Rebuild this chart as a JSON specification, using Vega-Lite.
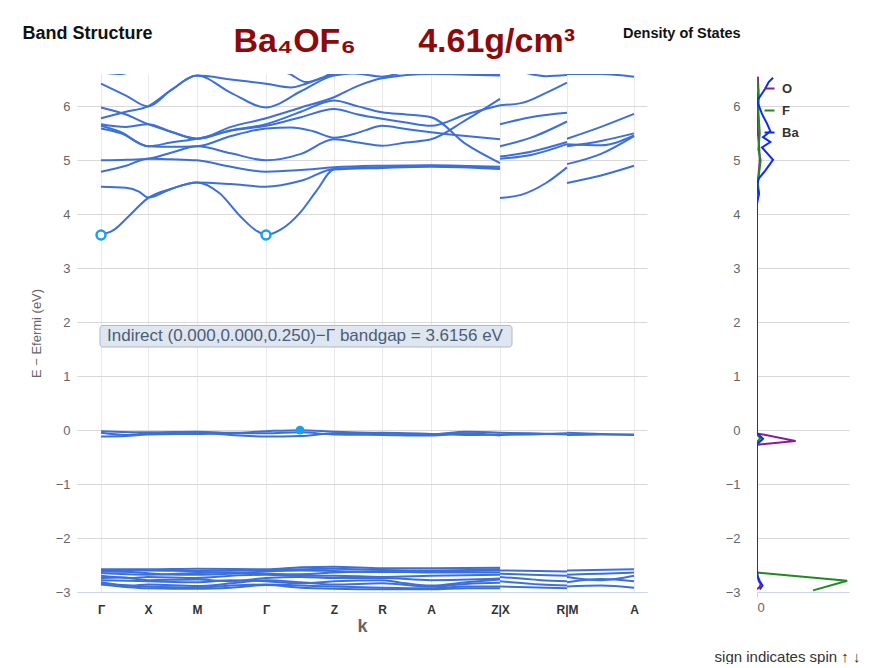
{
  "$schema": "https://vega.github.io/schema/vega-lite/v6.json",
  "padding": {"left": 22, "top": 24, "right": 0, "bottom": 0},
  "background": "white",
  "config": {
    "font": "Liberation Sans",
    "view": {"stroke": null},
    "title": {"font": "Liberation Sans"}
  },
  "spacing": -24,
  "datasets": {
    "bands": [
      {"b":"c1","k":0,"e":3.62},{"b":"c1","k":12,"e":3.7},{"b":"c1","k":28,"e":3.97},{"b":"c1","k":47,"e":4.3},{"b":"c1","k":70,"e":4.47},{"b":"c1","k":96,"e":4.59},{"b":"c1","k":118,"e":4.4},{"b":"c1","k":140,"e":3.95},{"b":"c1","k":155,"e":3.7},{"b":"c1","k":165,"e":3.62},{"b":"c1","k":180,"e":3.72},{"b":"c1","k":200,"e":4.05},{"b":"c1","k":216,"e":4.45},{"b":"c1","k":233,"e":4.83},{"b":"c1","k":281,"e":4.86},{"b":"c1","k":330,"e":4.88},{"b":"c1","k":399,"e":4.84},
      {"b":"c2","k":0,"e":4.51},{"b":"c2","k":25,"e":4.49},{"b":"c2","k":38,"e":4.42},{"b":"c2","k":47,"e":4.31},{"b":"c2","k":70,"e":4.47},{"b":"c2","k":96,"e":4.59},{"b":"c2","k":130,"e":4.56},{"b":"c2","k":165,"e":4.51},{"b":"c2","k":200,"e":4.62},{"b":"c2","k":233,"e":4.84},{"b":"c2","k":281,"e":4.87},{"b":"c2","k":330,"e":4.9},{"b":"c2","k":399,"e":4.85},
      {"b":"c3","k":0,"e":4.79},{"b":"c3","k":25,"e":4.9},{"b":"c3","k":47,"e":5.03},{"b":"c3","k":70,"e":5.02},{"b":"c3","k":96,"e":5.0},{"b":"c3","k":130,"e":4.88},{"b":"c3","k":165,"e":4.79},{"b":"c3","k":200,"e":4.82},{"b":"c3","k":233,"e":4.87},{"b":"c3","k":281,"e":4.9},{"b":"c3","k":330,"e":4.91},{"b":"c3","k":399,"e":4.88},
      {"b":"c4","k":0,"e":5.0},{"b":"c4","k":25,"e":5.01},{"b":"c4","k":47,"e":5.03},{"b":"c4","k":70,"e":5.14},{"b":"c4","k":96,"e":5.26},{"b":"c4","k":130,"e":5.13},{"b":"c4","k":165,"e":5.0},{"b":"c4","k":200,"e":5.12},{"b":"c4","k":233,"e":5.39},{"b":"c4","k":257,"e":5.33},{"b":"c4","k":281,"e":5.27},{"b":"c4","k":305,"e":5.33},{"b":"c4","k":330,"e":5.39},{"b":"c4","k":365,"e":5.75},{"b":"c4","k":399,"e":6.14},
      {"b":"c5","k":0,"e":5.59},{"b":"c5","k":20,"e":5.5},{"b":"c5","k":47,"e":5.26},{"b":"c5","k":70,"e":5.25},{"b":"c5","k":96,"e":5.26},{"b":"c5","k":130,"e":5.45},{"b":"c5","k":165,"e":5.59},{"b":"c5","k":190,"e":5.61},{"b":"c5","k":212,"e":5.54},{"b":"c5","k":233,"e":5.42},{"b":"c5","k":255,"e":5.5},{"b":"c5","k":265,"e":5.56},{"b":"c5","k":281,"e":5.64},{"b":"c5","k":305,"e":5.58},{"b":"c5","k":330,"e":5.52},{"b":"c5","k":365,"e":5.45},{"b":"c5","k":399,"e":5.39},
      {"b":"c6","k":0,"e":5.64},{"b":"c6","k":20,"e":5.52},{"b":"c6","k":47,"e":5.26},{"b":"c6","k":70,"e":5.33},{"b":"c6","k":96,"e":5.4},{"b":"c6","k":130,"e":5.55},{"b":"c6","k":165,"e":5.64},{"b":"c6","k":200,"e":5.8},{"b":"c6","k":233,"e":5.95},{"b":"c6","k":257,"e":5.85},{"b":"c6","k":281,"e":5.77},{"b":"c6","k":305,"e":5.7},{"b":"c6","k":330,"e":5.64},{"b":"c6","k":365,"e":5.85},{"b":"c6","k":399,"e":6.02},
      {"b":"c7","k":0,"e":5.67},{"b":"c7","k":25,"e":5.62},{"b":"c7","k":47,"e":5.67},{"b":"c7","k":70,"e":5.53},{"b":"c7","k":96,"e":5.4},{"b":"c7","k":130,"e":5.56},{"b":"c7","k":165,"e":5.67},{"b":"c7","k":200,"e":5.9},{"b":"c7","k":233,"e":6.11},{"b":"c7","k":257,"e":6.0},{"b":"c7","k":281,"e":5.89},{"b":"c7","k":305,"e":5.85},{"b":"c7","k":330,"e":5.8},{"b":"c7","k":365,"e":5.3},{"b":"c7","k":399,"e":4.95},
      {"b":"c8","k":0,"e":5.98},{"b":"c8","k":25,"e":5.85},{"b":"c8","k":47,"e":5.67},{"b":"c8","k":70,"e":5.53},{"b":"c8","k":96,"e":5.4},{"b":"c8","k":130,"e":5.62},{"b":"c8","k":165,"e":5.78},{"b":"c8","k":200,"e":5.98},{"b":"c8","k":233,"e":6.17},{"b":"c8","k":257,"e":6.38},{"b":"c8","k":281,"e":6.52},{"b":"c8","k":330,"e":6.6},{"b":"c8","k":399,"e":6.57},
      {"b":"c9","k":0,"e":5.78},{"b":"c9","k":25,"e":5.9},{"b":"c9","k":47,"e":6.0},{"b":"c9","k":70,"e":6.3},{"b":"c9","k":96,"e":6.57},{"b":"c9","k":130,"e":6.25},{"b":"c9","k":165,"e":5.98},{"b":"c9","k":200,"e":6.28},{"b":"c9","k":233,"e":6.57},{"b":"c9","k":281,"e":6.64},{"b":"c9","k":330,"e":6.62},{"b":"c9","k":399,"e":6.62},
      {"b":"c10","k":0,"e":6.42},{"b":"c10","k":25,"e":6.2},{"b":"c10","k":47,"e":6.0},{"b":"c10","k":70,"e":6.3},{"b":"c10","k":96,"e":6.57},{"b":"c10","k":130,"e":6.5},{"b":"c10","k":165,"e":6.42},{"b":"c10","k":190,"e":6.35},{"b":"c10","k":205,"e":6.42},{"b":"c10","k":220,"e":6.52},{"b":"c10","k":233,"e":6.6},{"b":"c10","k":281,"e":6.7},{"b":"c10","k":330,"e":6.68},{"b":"c10","k":399,"e":6.7},
      {"b":"c11","k":0,"e":6.63},{"b":"c11","k":20,"e":6.6},{"b":"c11","k":47,"e":6.75},{"b":"c11","k":96,"e":6.8},{"b":"c11","k":165,"e":6.63},{"b":"c11","k":185,"e":6.62},{"b":"c11","k":205,"e":6.45},{"b":"c11","k":220,"e":6.52},{"b":"c11","k":233,"e":6.62},{"b":"c11","k":260,"e":6.6},{"b":"c11","k":281,"e":6.55},{"b":"c11","k":300,"e":6.62},{"b":"c11","k":330,"e":6.7},{"b":"c11","k":365,"e":6.6},{"b":"c11","k":399,"e":6.58},
      {"b":"x1","k":399,"e":4.3},{"b":"x1","k":420,"e":4.36},{"b":"x1","k":445,"e":4.58},{"b":"x1","k":466,"e":4.87},
      {"b":"x2","k":399,"e":5.03},{"b":"x2","k":430,"e":5.1},{"b":"x2","k":466,"e":5.3},
      {"b":"x3","k":399,"e":5.07},{"b":"x3","k":430,"e":5.16},{"b":"x3","k":466,"e":5.34},
      {"b":"x4","k":399,"e":5.26},{"b":"x4","k":430,"e":5.42},{"b":"x4","k":466,"e":5.72},
      {"b":"x5","k":399,"e":5.67},{"b":"x5","k":430,"e":5.8},{"b":"x5","k":466,"e":5.88},
      {"b":"x6","k":399,"e":6.02},{"b":"x6","k":420,"e":6.06},{"b":"x6","k":445,"e":6.25},{"b":"x6","k":466,"e":6.44},
      {"b":"x7","k":399,"e":6.8},{"b":"x7","k":425,"e":6.62},{"b":"x7","k":445,"e":6.56},{"b":"x7","k":466,"e":6.58},
      {"b":"m1","k":466,"e":4.58},{"b":"m1","k":500,"e":4.72},{"b":"m1","k":533,"e":4.9},
      {"b":"m2","k":466,"e":4.93},{"b":"m2","k":500,"e":5.12},{"b":"m2","k":533,"e":5.45},
      {"b":"m3","k":466,"e":5.26},{"b":"m3","k":500,"e":5.36},{"b":"m3","k":533,"e":5.5},
      {"b":"m4","k":466,"e":5.3},{"b":"m4","k":500,"e":5.28},{"b":"m4","k":533,"e":5.46},
      {"b":"m5","k":466,"e":5.4},{"b":"m5","k":500,"e":5.62},{"b":"m5","k":533,"e":5.86},
      {"b":"m6","k":466,"e":6.6},{"b":"m6","k":500,"e":6.6},{"b":"m6","k":533,"e":6.55},
      {"b":"v1","k":0,"e":-0.02},{"b":"v1","k":47,"e":-0.04},{"b":"v1","k":96,"e":-0.03},{"b":"v1","k":130,"e":-0.05},{"b":"v1","k":165,"e":-0.02},{"b":"v1","k":199,"e":0.0},{"b":"v1","k":233,"e":-0.03},{"b":"v1","k":281,"e":-0.06},{"b":"v1","k":330,"e":-0.08},{"b":"v1","k":365,"e":-0.03},{"b":"v1","k":399,"e":-0.05},
      {"b":"v2","k":0,"e":-0.05},{"b":"v2","k":25,"e":-0.09},{"b":"v2","k":47,"e":-0.06},{"b":"v2","k":96,"e":-0.05},{"b":"v2","k":130,"e":-0.09},{"b":"v2","k":165,"e":-0.12},{"b":"v2","k":199,"e":-0.11},{"b":"v2","k":233,"e":-0.06},{"b":"v2","k":281,"e":-0.05},{"b":"v2","k":330,"e":-0.07},{"b":"v2","k":365,"e":-0.09},{"b":"v2","k":399,"e":-0.08},
      {"b":"v3","k":0,"e":-0.12},{"b":"v3","k":25,"e":-0.11},{"b":"v3","k":47,"e":-0.08},{"b":"v3","k":96,"e":-0.07},{"b":"v3","k":130,"e":-0.06},{"b":"v3","k":165,"e":-0.06},{"b":"v3","k":199,"e":-0.04},{"b":"v3","k":233,"e":-0.08},{"b":"v3","k":281,"e":-0.09},{"b":"v3","k":330,"e":-0.1},{"b":"v3","k":365,"e":-0.06},{"b":"v3","k":399,"e":-0.1},
      {"b":"vx1","k":399,"e":-0.05},{"b":"vx1","k":430,"e":-0.06},{"b":"vx1","k":466,"e":-0.08},
      {"b":"vx2","k":399,"e":-0.09},{"b":"vx2","k":430,"e":-0.08},{"b":"vx2","k":466,"e":-0.06},
      {"b":"vm1","k":466,"e":-0.05},{"b":"vm1","k":500,"e":-0.07},{"b":"vm1","k":533,"e":-0.09},
      {"b":"vm2","k":466,"e":-0.09},{"b":"vm2","k":500,"e":-0.08},{"b":"vm2","k":533,"e":-0.08},
      {"b":"d1","k":0,"e":-2.58},{"b":"d1","k":47,"e":-2.58},{"b":"d1","k":96,"e":-2.57},{"b":"d1","k":165,"e":-2.58},{"b":"d1","k":200,"e":-2.54},{"b":"d1","k":233,"e":-2.53},{"b":"d1","k":281,"e":-2.56},{"b":"d1","k":330,"e":-2.56},{"b":"d1","k":399,"e":-2.55},
      {"b":"d2","k":0,"e":-2.6},{"b":"d2","k":47,"e":-2.6},{"b":"d2","k":96,"e":-2.61},{"b":"d2","k":165,"e":-2.6},{"b":"d2","k":200,"e":-2.58},{"b":"d2","k":233,"e":-2.57},{"b":"d2","k":281,"e":-2.59},{"b":"d2","k":330,"e":-2.6},{"b":"d2","k":399,"e":-2.58},
      {"b":"d3","k":0,"e":-2.62},{"b":"d3","k":30,"e":-2.63},{"b":"d3","k":60,"e":-2.67},{"b":"d3","k":96,"e":-2.68},{"b":"d3","k":130,"e":-2.66},{"b":"d3","k":165,"e":-2.62},{"b":"d3","k":200,"e":-2.6},{"b":"d3","k":233,"e":-2.61},{"b":"d3","k":281,"e":-2.63},{"b":"d3","k":330,"e":-2.62},{"b":"d3","k":399,"e":-2.6},
      {"b":"d4","k":0,"e":-2.65},{"b":"d4","k":47,"e":-2.68},{"b":"d4","k":96,"e":-2.65},{"b":"d4","k":130,"e":-2.64},{"b":"d4","k":165,"e":-2.66},{"b":"d4","k":200,"e":-2.67},{"b":"d4","k":233,"e":-2.64},{"b":"d4","k":281,"e":-2.62},{"b":"d4","k":330,"e":-2.64},{"b":"d4","k":399,"e":-2.64},
      {"b":"d5","k":0,"e":-2.7},{"b":"d5","k":30,"e":-2.74},{"b":"d5","k":47,"e":-2.72},{"b":"d5","k":96,"e":-2.74},{"b":"d5","k":130,"e":-2.7},{"b":"d5","k":165,"e":-2.68},{"b":"d5","k":200,"e":-2.7},{"b":"d5","k":233,"e":-2.7},{"b":"d5","k":281,"e":-2.72},{"b":"d5","k":330,"e":-2.7},{"b":"d5","k":399,"e":-2.68},
      {"b":"d6","k":0,"e":-2.74},{"b":"d6","k":20,"e":-2.73},{"b":"d6","k":47,"e":-2.78},{"b":"d6","k":96,"e":-2.77},{"b":"d6","k":130,"e":-2.8},{"b":"d6","k":165,"e":-2.74},{"b":"d6","k":200,"e":-2.72},{"b":"d6","k":233,"e":-2.74},{"b":"d6","k":281,"e":-2.74},{"b":"d6","k":330,"e":-2.78},{"b":"d6","k":399,"e":-2.75},
      {"b":"d7","k":0,"e":-2.78},{"b":"d7","k":47,"e":-2.8},{"b":"d7","k":96,"e":-2.82},{"b":"d7","k":130,"e":-2.78},{"b":"d7","k":165,"e":-2.8},{"b":"d7","k":200,"e":-2.84},{"b":"d7","k":233,"e":-2.8},{"b":"d7","k":281,"e":-2.78},{"b":"d7","k":305,"e":-2.84},{"b":"d7","k":330,"e":-2.88},{"b":"d7","k":365,"e":-2.82},{"b":"d7","k":399,"e":-2.77},
      {"b":"d8","k":0,"e":-2.82},{"b":"d8","k":30,"e":-2.88},{"b":"d8","k":47,"e":-2.86},{"b":"d8","k":96,"e":-2.89},{"b":"d8","k":130,"e":-2.84},{"b":"d8","k":165,"e":-2.78},{"b":"d8","k":200,"e":-2.82},{"b":"d8","k":233,"e":-2.86},{"b":"d8","k":281,"e":-2.84},{"b":"d8","k":330,"e":-2.9},{"b":"d8","k":365,"e":-2.85},{"b":"d8","k":399,"e":-2.83},
      {"b":"d9","k":0,"e":-2.85},{"b":"d9","k":47,"e":-2.9},{"b":"d9","k":96,"e":-2.92},{"b":"d9","k":130,"e":-2.88},{"b":"d9","k":165,"e":-2.86},{"b":"d9","k":200,"e":-2.88},{"b":"d9","k":233,"e":-2.9},{"b":"d9","k":281,"e":-2.92},{"b":"d9","k":330,"e":-2.93},{"b":"d9","k":365,"e":-2.9},{"b":"d9","k":399,"e":-2.9},
      {"b":"d10","k":0,"e":-2.86},{"b":"d10","k":47,"e":-2.93},{"b":"d10","k":96,"e":-2.94},{"b":"d10","k":130,"e":-2.92},{"b":"d10","k":165,"e":-2.87},{"b":"d10","k":200,"e":-2.92},{"b":"d10","k":233,"e":-2.94},{"b":"d10","k":281,"e":-2.95},{"b":"d10","k":330,"e":-2.95},{"b":"d10","k":365,"e":-2.93},{"b":"d10","k":399,"e":-2.93},
      {"b":"dx1","k":399,"e":-2.6},{"b":"dx1","k":466,"e":-2.62},
      {"b":"dx2","k":399,"e":-2.66},{"b":"dx2","k":430,"e":-2.68},{"b":"dx2","k":466,"e":-2.7},
      {"b":"dx3","k":399,"e":-2.72},{"b":"dx3","k":440,"e":-2.78},{"b":"dx3","k":466,"e":-2.8},
      {"b":"dx4","k":399,"e":-2.8},{"b":"dx4","k":440,"e":-2.86},{"b":"dx4","k":466,"e":-2.88},
      {"b":"dx5","k":399,"e":-2.9},{"b":"dx5","k":466,"e":-2.93},
      {"b":"dm1","k":466,"e":-2.6},{"b":"dm1","k":533,"e":-2.58},
      {"b":"dm2","k":466,"e":-2.68},{"b":"dm2","k":500,"e":-2.66},{"b":"dm2","k":533,"e":-2.64},
      {"b":"dm3","k":466,"e":-2.72},{"b":"dm3","k":500,"e":-2.78},{"b":"dm3","k":533,"e":-2.7},
      {"b":"dm4","k":466,"e":-2.82},{"b":"dm4","k":500,"e":-2.76},{"b":"dm4","k":533,"e":-2.8},
      {"b":"dm5","k":466,"e":-2.9},{"b":"dm5","k":500,"e":-2.88},{"b":"dm5","k":533,"e":-2.92}
    ],
    "edges": [
      {"kind":"cbm","k":0,"e":3.6156},
      {"kind":"cbm","k":165,"e":3.6156},
      {"kind":"vbm","k":199,"e":0}
    ],
    "dos": [
      {"el":"O","e":-2.95,"d":0},{"el":"O","e":-2.9,"d":0.3},{"el":"O","e":-2.85,"d":0.4},{"el":"O","e":-2.8,"d":0.2},{"el":"O","e":-2.7,"d":0.05},{"el":"O","e":-2.6,"d":0},{"el":"O","e":-0.3,"d":0},{"el":"O","e":-0.27,"d":0},{"el":"O","e":-0.2,"d":4.2},{"el":"O","e":-0.06,"d":0},{"el":"O","e":-0.02,"d":0},{"el":"O","e":4.2,"d":0},{"el":"O","e":4.6,"d":0.1},{"el":"O","e":5.0,"d":0.3},{"el":"O","e":5.2,"d":0.25},{"el":"O","e":5.5,"d":0.1},{"el":"O","e":6.0,"d":0.0},{"el":"O","e":6.3,"d":0.15},{"el":"O","e":6.55,"d":0.1},
      {"el":"F","e":-2.97,"d":6.1},{"el":"F","e":-2.79,"d":9.8},{"el":"F","e":-2.64,"d":0},{"el":"F","e":-2.5,"d":0},{"el":"F","e":-0.22,"d":0},{"el":"F","e":-0.15,"d":0.35},{"el":"F","e":-0.08,"d":0},{"el":"F","e":4.3,"d":0},{"el":"F","e":4.4,"d":0.2},{"el":"F","e":4.6,"d":0.1},{"el":"F","e":5.0,"d":0.4},{"el":"F","e":5.2,"d":0.15},{"el":"F","e":5.5,"d":0.3},{"el":"F","e":5.9,"d":0.15},{"el":"F","e":6.2,"d":0.2},{"el":"F","e":6.55,"d":0},
      {"el":"Ba","e":-2.95,"d":0.3},{"el":"Ba","e":-2.88,"d":0.6},{"el":"Ba","e":-2.8,"d":0.3},{"el":"Ba","e":-2.7,"d":0.05},{"el":"Ba","e":-2.6,"d":0},{"el":"Ba","e":-0.26,"d":0},{"el":"Ba","e":-0.16,"d":0.65},{"el":"Ba","e":-0.06,"d":0},{"el":"Ba","e":3.2,"d":0},{"el":"Ba","e":4.2,"d":0},{"el":"Ba","e":4.38,"d":0.22},{"el":"Ba","e":4.54,"d":0},{"el":"Ba","e":4.66,"d":0.18},{"el":"Ba","e":4.81,"d":0.9},{"el":"Ba","e":5.01,"d":1.74},{"el":"Ba","e":5.24,"d":0.54},{"el":"Ba","e":5.34,"d":1.45},{"el":"Ba","e":5.43,"d":0.65},{"el":"Ba","e":5.54,"d":1.45},{"el":"Ba","e":5.68,"d":1.09},{"el":"Ba","e":5.86,"d":0.54},{"el":"Ba","e":6.1,"d":0},{"el":"Ba","e":6.33,"d":0.9},{"el":"Ba","e":6.45,"d":1.27},{"el":"Ba","e":6.53,"d":1.74}
    ]
  },
  "hconcat": [
    {
      "width": 570,
      "height": 518,
      "resolve": {"axis": {"x": "independent"}},
      "layer": [
        {
          "data": {"name": "bands"},
          "mark": {"type": "line", "interpolate": "monotone", "color": "#3d6fdb", "strokeWidth": 2, "clip": true},
          "encoding": {
            "x": {
              "field": "k", "type": "quantitative",
              "scale": {"domain": [-24, 546], "nice": false, "zero": false},
              "axis": {
                "values": [0, 47, 96, 165, 233, 281, 330, 399, 466, 533],
                "labelExpr": "['Γ','X','M','Γ','Z','R','A','Z|X','R|M','A'][indexof([0,47,96,165,233,281,330,399,466,533], datum.value)]",
                "grid": true, "gridColor": "#e9e9e9",
                "ticks": false, "domainColor": "#ccd6eb",
                "labelFontSize": 12, "labelFontWeight": "bold", "labelColor": "#333", "labelPadding": 12,
                "title": "k", "titleFontSize": 18, "titleFontWeight": "bold", "titleColor": "#666", "titlePadding": 2
              }
            },
            "y": {
              "field": "e", "type": "quantitative",
              "scale": {"domain": [-3, 6.6], "nice": false, "zero": false},
              "axis": {
                "values": [-3, -2, -1, 0, 1, 2, 3, 4, 5, 6],
                "grid": true, "gridColor": "#d8d8d8",
                "ticks": false, "domain": false,
                "labelFontSize": 13, "labelColor": "#666", "labelPadding": 7,
                "title": "E − Efermi (eV)", "titleFontSize": 13, "titleFontWeight": "normal", "titleColor": "#666", "titlePadding": 12
              }
            },
            "detail": {"field": "b", "type": "nominal"}
          }
        },
        {
          "data": {"values": [{}]},
          "mark": {"type": "rect", "fill": "#dfe6ef", "stroke": "#a9b9cf", "strokeWidth": 1, "cornerRadius": 3},
          "encoding": {
            "x": {"datum": -1, "axis": null},
            "x2": {"datum": 411},
            "y": {"datum": 1.94},
            "y2": {"datum": 1.54}
          }
        },
        {
          "data": {"values": [{}]},
          "mark": {"type": "text", "align": "left", "baseline": "middle", "fontSize": 17, "color": "#4c5d7a", "text": "Indirect (0.000,0.000,0.250)−Γ bandgap = 3.6156 eV"},
          "encoding": {
            "x": {"datum": 6, "axis": null},
            "y": {"datum": 1.74}
          }
        },
        {
          "data": {"name": "edges"},
          "transform": [{"filter": "datum.kind === 'cbm'"}],
          "mark": {"type": "point", "shape": "circle", "filled": true, "fill": "white", "stroke": "#1aa0f0", "strokeWidth": 2.5, "size": 80, "opacity": 1},
          "encoding": {
            "x": {
              "field": "k", "type": "quantitative",
              "axis": {
                "orient": "top", "labels": false, "ticks": false, "domain": false, "grid": false,
                "title": "Band Structure", "titleFontSize": 18, "titleFontWeight": "bold", "titleColor": "#111",
                "titleAlign": "left", "titleBaseline": "middle", "titleX": -55, "titleY": -41
              }
            },
            "y": {"field": "e", "type": "quantitative"}
          }
        },
        {
          "data": {"name": "edges"},
          "transform": [{"filter": "datum.kind === 'vbm'"}],
          "mark": {"type": "point", "shape": "circle", "filled": true, "color": "#1a9ef0", "size": 80, "opacity": 1},
          "encoding": {
            "x": {
              "field": "k", "type": "quantitative",
              "axis": {
                "orient": "top", "labels": false, "ticks": false, "domain": false, "grid": false,
                "title": "Ba₄OF₆\u2003\u00a0\u00a0\u00a04.61g/cm³", "titleFontSize": 34, "titleFontWeight": "bold", "titleColor": "#8c0a0a",
                "titleAlign": "left", "titleBaseline": "middle", "titleX": 156, "titleY": -33
              }
            },
            "y": {"field": "e", "type": "quantitative"}
          }
        }
      ]
    },
    {
      "width": 92,
      "height": 518,
      "title": {
        "text": "Density of States",
        "fontSize": 14.5,
        "fontWeight": "bold",
        "color": "#111",
        "anchor": "start",
        "frame": "group",
        "dx": -134,
        "offset": 33
      },
      "data": {"name": "dos"},
      "mark": {"type": "line", "strokeWidth": 2, "clip": true},
      "encoding": {
        "x": {
          "field": "d", "type": "quantitative",
          "scale": {"domain": [0, 10], "nice": false},
          "axis": {
            "values": [0], "grid": false, "ticks": true, "tickSize": 5, "tickColor": "#ccd6eb", "domainColor": "#ccd6eb",
            "labelFontSize": 13, "labelColor": "#666", "labelPadding": 4,
            "title": "sign indicates spin ↑ ↓", "titleFontSize": 15, "titleFontWeight": "normal", "titleColor": "#333",
            "titleX": 30, "titleY": 57
          }
        },
        "y": {
          "field": "e", "type": "quantitative",
          "scale": {"domain": [-3, 6.6], "nice": false, "zero": false},
          "axis": {
            "values": [-3, -2, -1, 0, 1, 2, 3, 4, 5, 6],
            "grid": true, "gridColor": "#d8d8d8", "ticks": false, "domain": false,
            "labelFontSize": 13, "labelColor": "#666", "labelPadding": 17, "title": null
          }
        },
        "color": {
          "field": "el", "type": "nominal",
          "scale": {"domain": ["O", "F", "Ba"], "range": ["#8b1a9b", "#1f8a1f", "#0a2aff"]},
          "legend": {
            "orient": "none", "legendX": 686, "legendY": 8, "title": null,
            "symbolType": "stroke", "symbolStrokeWidth": 2, "symbolSize": 100,
            "labelFontWeight": "bold", "labelFontSize": 13, "labelColor": "#333", "labelOffset": 6, "rowPadding": 8
          }
        },
        "order": {"field": "e", "type": "quantitative"}
      }
    }
  ]
}
